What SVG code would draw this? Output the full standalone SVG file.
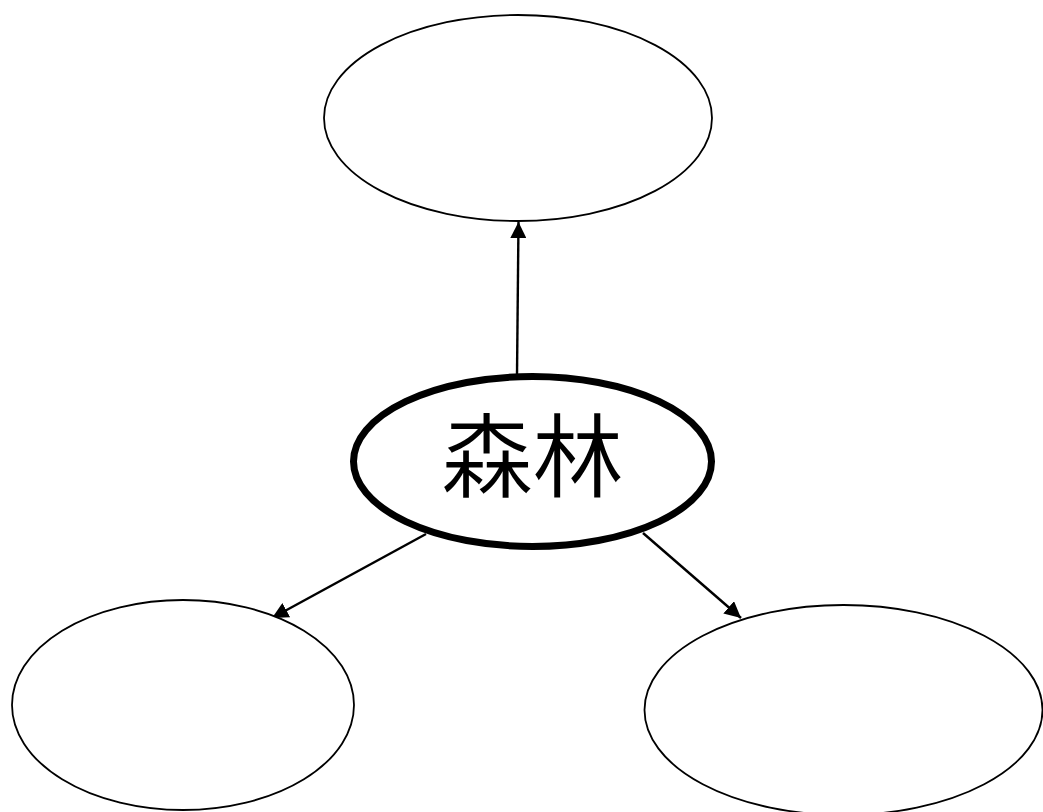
<svg xmlns="http://www.w3.org/2000/svg" width="1043" height="812" viewBox="0 0 1043 812">
<style>
.node{fill:#fff;stroke:#000;stroke-width:1.8}
.main{fill:#fff;stroke:#000;stroke-width:7}
.edge{stroke:#000;stroke-width:2.4;fill:none}
.label{font-family:"Noto Sans CJK JP","Noto Sans CJK SC",sans-serif;font-size:91px;font-weight:350;fill:#000}
</style>
<defs>
<marker id="arrow" viewBox="0 0 10 10" refX="10" refY="5" markerWidth="6.8" markerHeight="6.8" markerUnits="strokeWidth" orient="auto">
<path d="M0,0 L10,5 L0,10 Z" fill="#000"/>
</marker>
</defs>
<rect width="1043" height="812" fill="#fff"/>
<g id="connectors">
<line class="edge" x1="517" y1="375" x2="518.5" y2="222" marker-end="url(#arrow)"/>
<line class="edge" x1="426" y1="534" x2="272" y2="618" marker-end="url(#arrow)"/>
<line class="edge" x1="643" y1="533" x2="741" y2="618" marker-end="url(#arrow)"/>
</g>
<g id="node-top">
<ellipse class="node" cx="518" cy="118" rx="194" ry="103"/>
</g>
<g id="node-center">
<ellipse class="main" cx="532.5" cy="461.5" rx="179" ry="85"/>
<text class="label" x="532.5" y="490" text-anchor="middle">森林</text>
</g>
<g id="node-left">
<ellipse class="node" cx="183" cy="705" rx="171" ry="105"/>
</g>
<g id="node-right">
<ellipse class="node" cx="843.5" cy="710" rx="199" ry="105"/>
</g>
</svg>
